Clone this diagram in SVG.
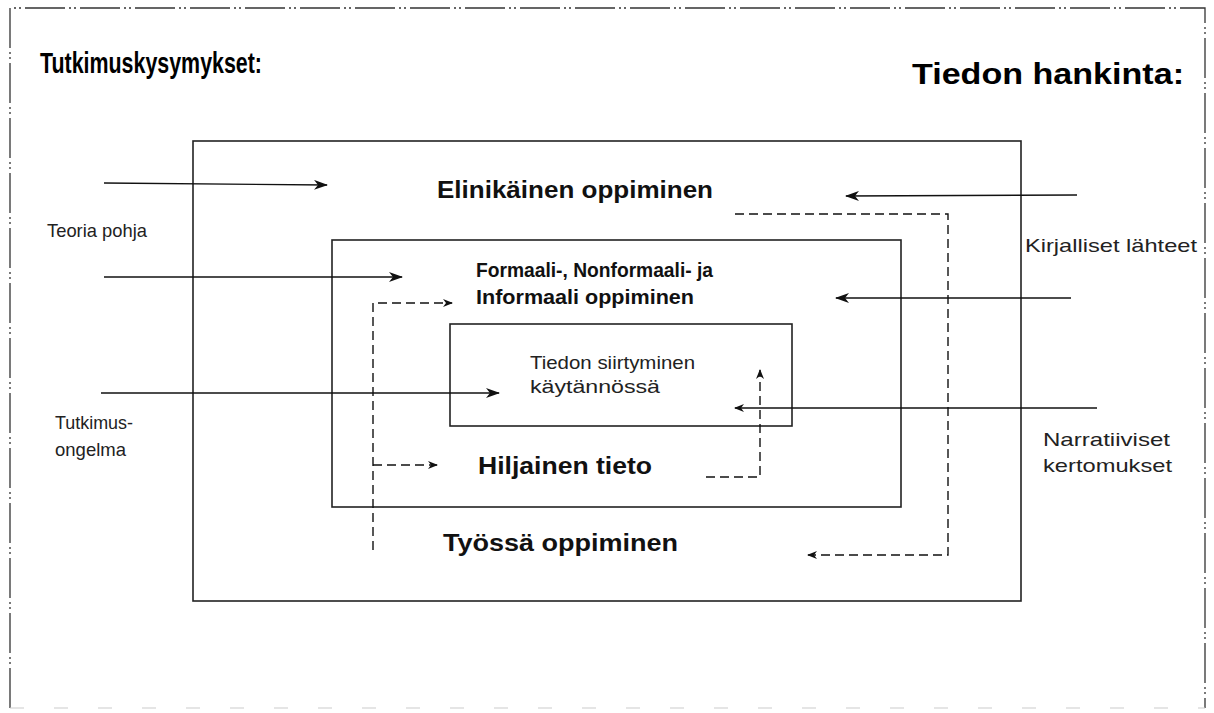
<svg xmlns="http://www.w3.org/2000/svg" width="1214" height="713" viewBox="0 0 1214 713">
<style>
.frame{fill:none;stroke:#333;stroke-width:1.3}
.box{fill:none;stroke:#222;stroke-width:1.6}
.ln{fill:none;stroke:#111;stroke-width:1.4}
.dl{fill:none;stroke:#111;stroke-width:1.4;stroke-dasharray:9 5}
.h{font-family:"Liberation Sans",Arial,sans-serif;font-weight:bold;font-size:30px;fill:#000}
.b{font-family:"Liberation Sans",Arial,sans-serif;font-weight:bold;font-size:23px;fill:#111}
.b2{font-family:"Liberation Sans",Arial,sans-serif;font-weight:bold;font-size:20px;fill:#111}
.r{font-family:"Liberation Sans",Arial,sans-serif;font-size:19px;fill:#222}
</style>
<defs>
<marker id="ah" markerWidth="14" markerHeight="10" refX="13" refY="5" orient="auto" markerUnits="userSpaceOnUse">
<path d="M0,0 L14,5 L0,10 L4,5 Z" fill="#111"/>
</marker>
<marker id="ahs" markerWidth="10" markerHeight="8" refX="9" refY="4" orient="auto" markerUnits="userSpaceOnUse">
<path d="M0,0 L10,4 L0,8 L3,4 Z" fill="#111"/>
</marker>
</defs>
<rect width="1214" height="713" fill="#fff"/>
<g id="frame">
<path class="frame" d="M10,708 L10,8 L1205,8 L1205,708" stroke-dasharray="40 4 2 3 2 4"/>
<path d="M10,708 L1205,708" fill="none" stroke="#ccc" stroke-width="1.2" stroke-dasharray="14 30"/>
</g>
<g id="headings">
<text class="h" x="40" y="73" textLength="222" lengthAdjust="spacingAndGlyphs">Tutkimuskysymykset:</text>
<text class="h" x="912" y="84" textLength="272" lengthAdjust="spacingAndGlyphs">Tiedon hankinta:</text>
</g>
<g id="elinikainen">
<rect class="box" x="193" y="141" width="828" height="460"/>
<text class="b" x="437" y="198" textLength="276" lengthAdjust="spacingAndGlyphs">Elinikäinen oppiminen</text>
<text class="b" x="443" y="551" textLength="235" lengthAdjust="spacingAndGlyphs">Työssä oppiminen</text>
</g>
<g id="formaali">
<rect class="box" x="332" y="240" width="569" height="267"/>
<text class="b2" x="476" y="277" textLength="237" lengthAdjust="spacingAndGlyphs">Formaali-, Nonformaali- ja</text>
<text class="b2" x="476" y="304" textLength="218" lengthAdjust="spacingAndGlyphs">Informaali oppiminen</text>
<text class="b" x="478" y="474" textLength="174" lengthAdjust="spacingAndGlyphs">Hiljainen tieto</text>
</g>
<g id="tiedon-siirtyminen">
<rect class="box" x="450" y="324" width="342" height="102"/>
<text class="r" x="530" y="369" textLength="165" lengthAdjust="spacingAndGlyphs">Tiedon siirtyminen</text>
<text class="r" x="530" y="393" textLength="130" lengthAdjust="spacingAndGlyphs">käytännössä</text>
</g>
<g id="labels">
<text class="r" x="47" y="237" textLength="100" lengthAdjust="spacingAndGlyphs">Teoria pohja</text>
<text class="r" x="55" y="429" textLength="78" lengthAdjust="spacingAndGlyphs">Tutkimus-</text>
<text class="r" x="55" y="456" textLength="71" lengthAdjust="spacingAndGlyphs">ongelma</text>
<text class="r" x="1025" y="252" textLength="172" lengthAdjust="spacingAndGlyphs">Kirjalliset lähteet</text>
<text class="r" x="1043" y="446" textLength="127" lengthAdjust="spacingAndGlyphs">Narratiiviset</text>
<text class="r" x="1043" y="472" textLength="129" lengthAdjust="spacingAndGlyphs">kertomukset</text>
</g>
<g id="connectors">
<path class="ln" d="M104,183 L327,185" marker-end="url(#ah)"/>
<path class="ln" d="M104,277 L402,277" marker-end="url(#ah)"/>
<path class="ln" d="M101,393 L499,393" marker-end="url(#ah)"/>
<path class="ln" d="M1077,195 L846,196" marker-end="url(#ah)"/>
<path class="ln" d="M1071,298 L836,298" marker-end="url(#ah)"/>
<path class="ln" d="M1097,408 L735,408" marker-end="url(#ahs)"/>
<path class="dl" d="M735,214 L948,214 L948,555 L808,555" marker-end="url(#ahs)"/>
<path class="dl" d="M373,550 L373,303 L452,303" marker-end="url(#ahs)"/>
<path class="dl" d="M373,465 L437,465" marker-end="url(#ahs)"/>
<path class="dl" d="M706,477 L760,477 L760,370" marker-end="url(#ahs)"/>
</g>
</svg>
